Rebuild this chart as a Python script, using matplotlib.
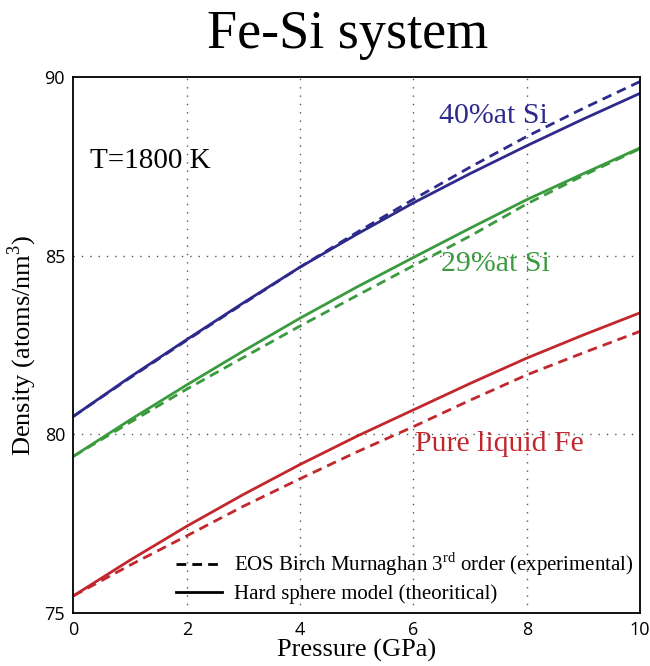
import matplotlib
matplotlib.use("Agg")
import matplotlib.pyplot as plt

# Pressure (GPa)
pressure = [0, 1, 2, 3, 4, 5, 6, 7, 8, 9, 10]

# Density (atoms/nm3), hard sphere model (solid) and EOS BM3 (dashed)
si40_hs = [80.5, 81.6, 82.65, 83.68, 84.68, 85.6, 86.48, 87.3, 88.08, 88.83, 89.55]
si40_eos = [80.5, 81.58, 82.63, 83.66, 84.68, 85.65, 86.58, 87.48, 88.34, 89.13, 89.88]
si29_hs = [79.38, 80.4, 81.38, 82.33, 83.25, 84.12, 84.95, 85.77, 86.57, 87.3, 88.02]
si29_eos = [79.38, 80.33, 81.26, 82.15, 83.03, 83.88, 84.72, 85.55, 86.45, 87.25, 88.0]
fe_hs = [75.47, 76.47, 77.42, 78.31, 79.15, 79.94, 80.68, 81.42, 82.13, 82.78, 83.4]
fe_eos = [75.47, 76.33, 77.15, 77.98, 78.75, 79.5, 80.21, 80.95, 81.66, 82.28, 82.88]

blue = '#2e2a8c'
green = '#3a9a3e'
red = '#c1272d'
serif = 'Liberation Serif'

plt.rcParams['mathtext.fontset'] = 'custom'
plt.rcParams['mathtext.rm'] = serif

fig = plt.figure(figsize=(6.5, 6.66), dpi=100)
ax = fig.add_axes([0.113, 0.0802, 0.8717, 0.8038])

lw = 2.0
dash = (0, (3.5, 2.2))
ax.plot(pressure, si40_eos, color=blue, lw=lw, linestyle=dash)
ax.plot(pressure, si40_hs, color=blue, lw=lw)
ax.plot(pressure, si29_eos, color=green, lw=lw, linestyle=dash)
ax.plot(pressure, si29_hs, color=green, lw=lw)
ax.plot(pressure, fe_eos, color=red, lw=lw, linestyle=dash)
ax.plot(pressure, fe_hs, color=red, lw=lw)

ax.set_xlim(0, 10)
ax.set_ylim(75, 90)
ax.set_xticks([0, 2, 4, 6, 8, 10])
ax.set_yticks([75, 80, 85, 90])
ax.tick_params(length=0, labelsize=13, pad=6)
for lab in ax.get_xticklabels() + ax.get_yticklabels():
    lab.set_fontfamily('Open Sans')

# dotted grid only at inner positions
for x in [2, 4, 6, 8]:
    ax.axvline(x, color='#555555', lw=1, linestyle=(0, (1, 5)), zorder=0)
for y in [80, 85]:
    ax.axhline(y, color='#555555', lw=1, linestyle=(0, (1, 5)), zorder=0)

for sp in ax.spines.values():
    sp.set_linewidth(1.3)

ax.set_xlabel("Pressure (GPa)", fontfamily=serif, fontsize=19, labelpad=0)
ax.set_ylabel("Density (atoms/nm$^3$)", fontfamily=serif, fontsize=19, labelpad=4)
fig.text(0.535, 0.948, "Fe-Si system", fontfamily=serif, fontsize=39,
         ha='center', va='center')

ax.text(0.03, 0.844, "T=1800 K", transform=ax.transAxes, fontfamily=serif,
        fontsize=21, va='center')
ax.text(0.645, 0.928, "40%at Si", transform=ax.transAxes, fontfamily=serif,
        fontsize=21.5, va='center', color=blue)
ax.text(0.648, 0.651, "29%at Si", transform=ax.transAxes, fontfamily=serif,
        fontsize=21.5, va='center', color=green)
ax.text(0.602, 0.314, "Pure liquid Fe", transform=ax.transAxes, fontfamily=serif,
        fontsize=21.5, va='center', color=red)

h1, = ax.plot([], [], color='black', lw=lw, linestyle=dash)
h2, = ax.plot([], [], color='black', lw=lw)
leg = ax.legend([h1, h2],
                ["EOS Birch Murnaghan 3$^{\\rm rd}$ order (experimental)",
                 "Hard sphere model (theoritical)"],
                loc='lower left', bbox_to_anchor=(0.148, -0.019), frameon=False,
                prop={'family': serif, 'size': 15}, handlelength=2.2,
                handletextpad=0.6, labelspacing=0.3)

plt.savefig("out.png", dpi=100)
plt.close()
